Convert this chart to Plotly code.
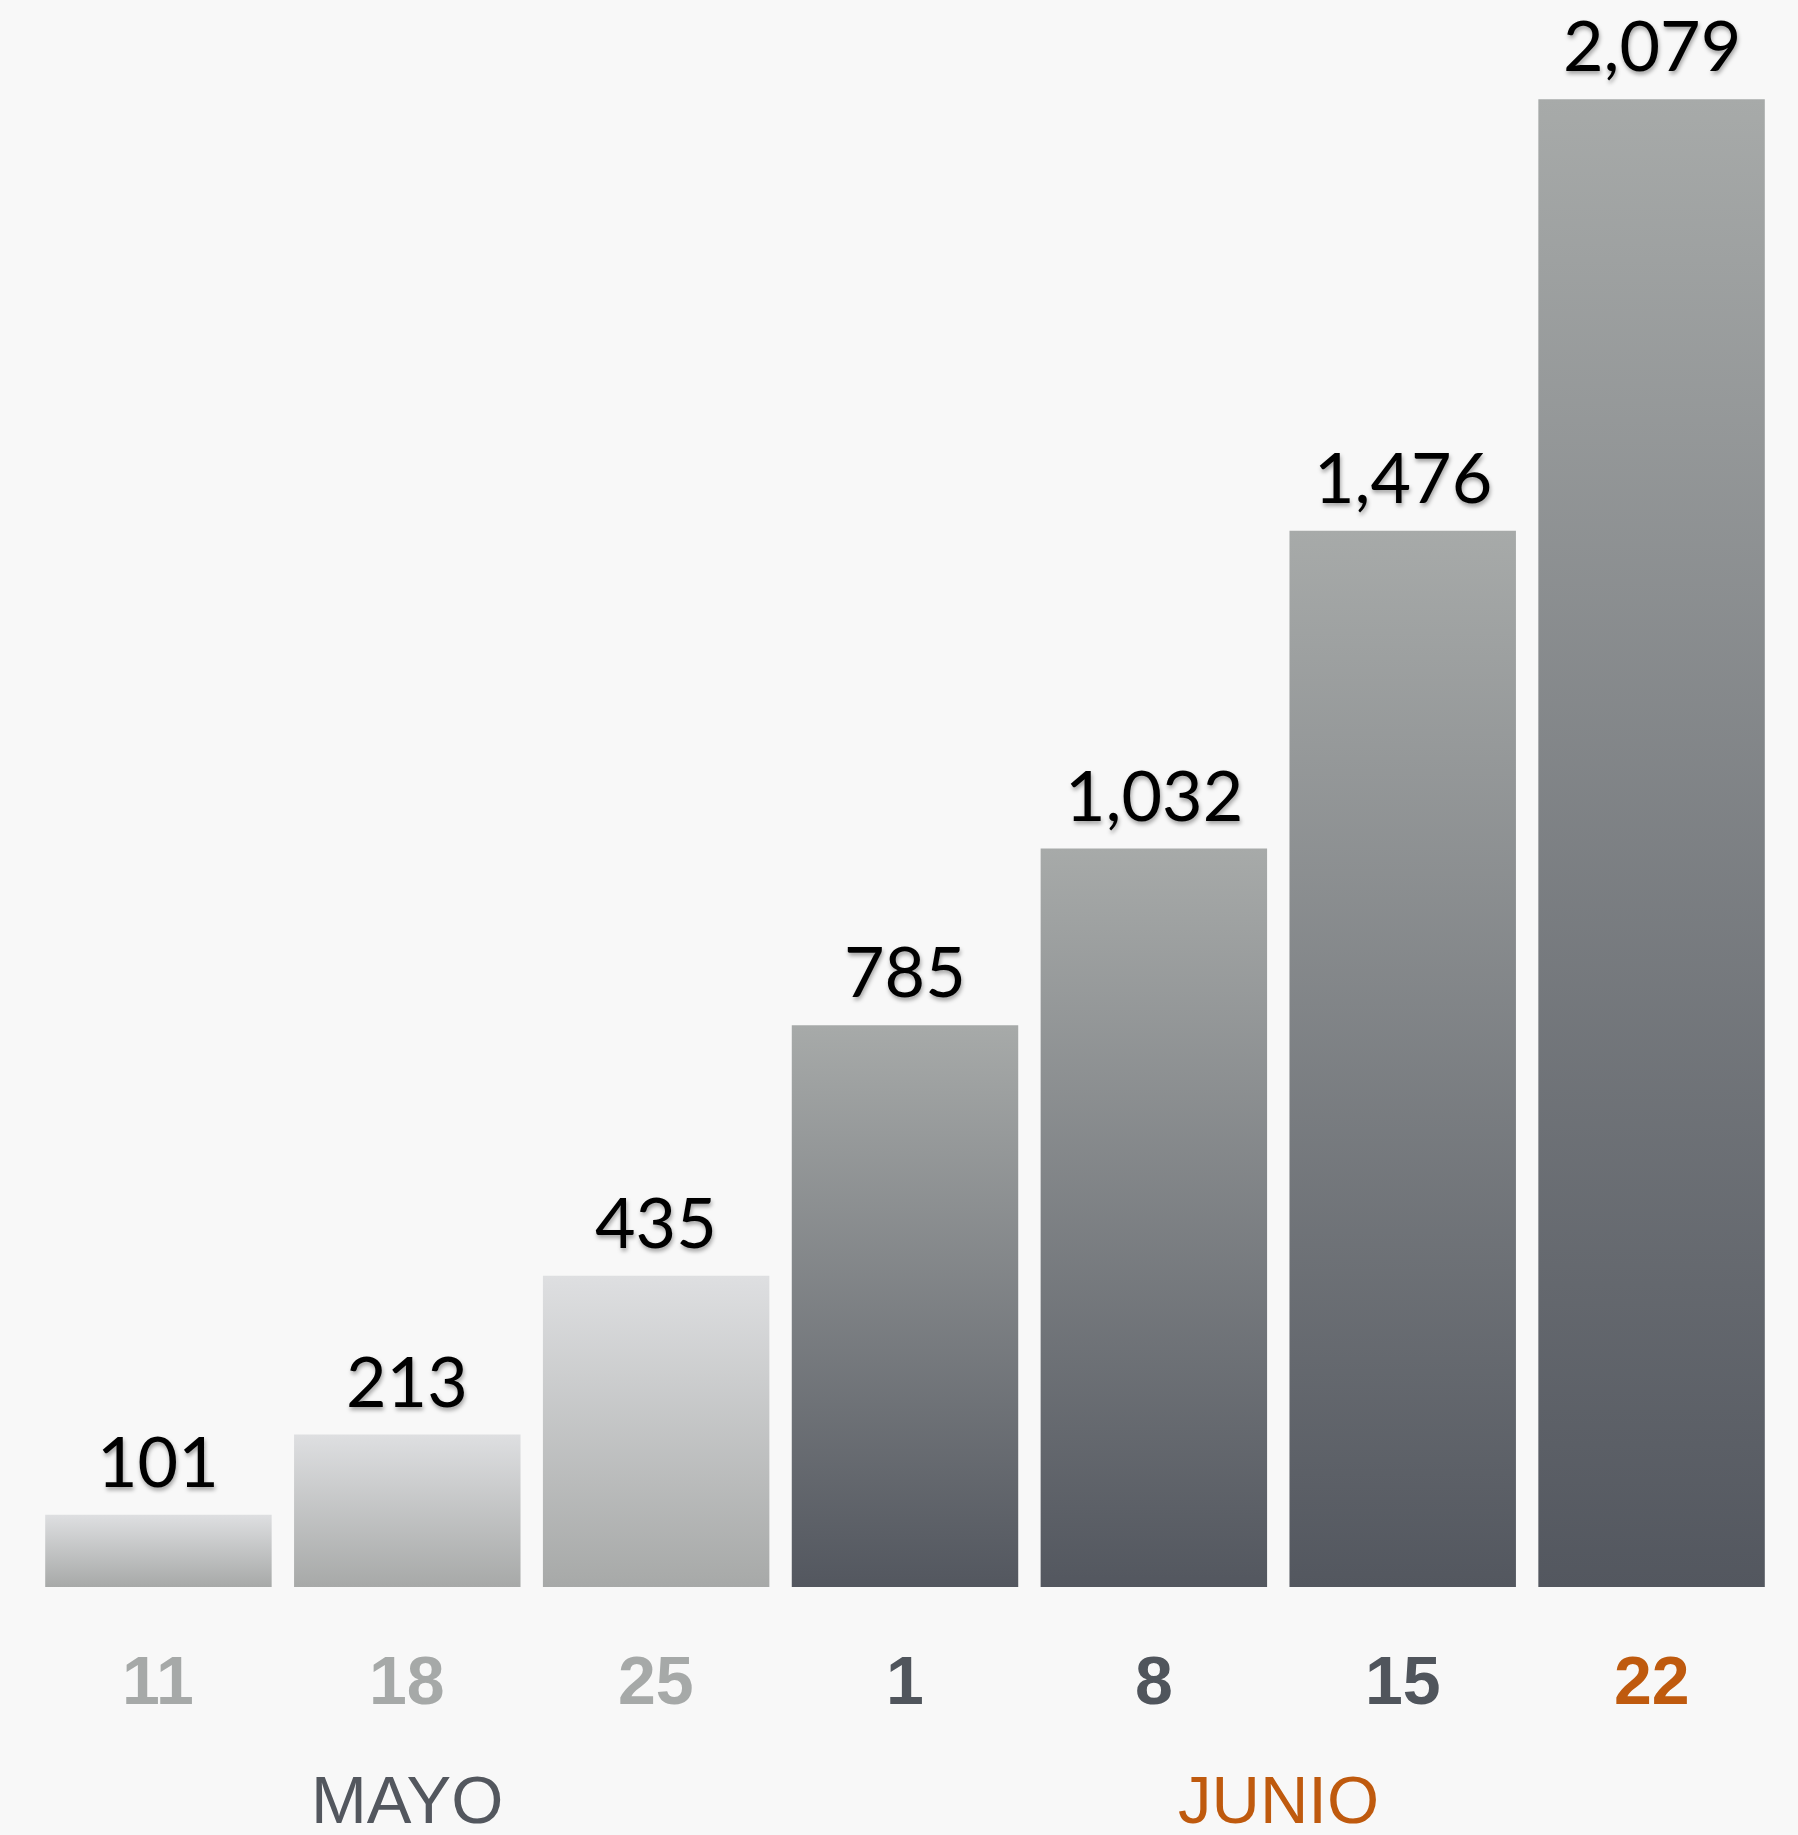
import plotly.graph_objects as go

# weekly cumulative counts, May -> June
days = ['11', '18', '25', '1', '8', '15', '22']
cases = [101, 213, 435, 785, 1032, 1476, 2079]
month_of_day = ['MAYO', 'MAYO', 'MAYO', 'JUNIO', 'JUNIO', 'JUNIO', 'JUNIO']
months = ['MAYO', 'JUNIO']

BG = '#f8f8f8'
LIGHT = [[0, '#a7a9a8'], [1, '#dedfe1']]
DARK = [[0, '#53575f'], [1, '#a7aaa9']]
ORANGE = '#bf5a0e'
half_w = 0.455

fig = go.Figure()

for i, (d, v, m) in enumerate(zip(days, cases, month_of_day)):
    fig.add_trace(go.Scatter(
        x=[i - half_w, i + half_w, i + half_w, i - half_w, i - half_w],
        y=[0, 0, v, v, 0],
        mode='lines',
        line=dict(width=0),
        fill='toself',
        fillgradient=dict(type='vertical', colorscale=LIGHT if m == 'MAYO' else DARK),
        hoverinfo='skip',
        showlegend=False,
    ))
    # value on top of the bar
    fig.add_annotation(
        x=i, y=v, xref='x', yref='y', yanchor='bottom', yshift=11,
        text=f'{v:,}', showarrow=False,
        font=dict(family='Lato', size=70, color='#000000', weight=400,
                  shadow='1px 3px 4px rgba(0,0,0,0.35)'),
    )
    # day label under the bar
    if i == len(days) - 1:
        c = ORANGE
    elif m == 'MAYO':
        c = '#a6a9a8'
    else:
        c = '#50555c'
    fig.add_annotation(
        x=i, y=0, xref='x', yref='y', yanchor='middle', yshift=-93,
        text=f'<b>{d}</b>', showarrow=False,
        font=dict(family='Liberation Sans', size=68, color=c),
    )

# month labels, centred under their weeks
for m in months:
    idx = [i for i, mm in enumerate(month_of_day) if mm == m]
    center = (idx[0] + idx[-1]) / 2
    fig.add_annotation(
        x=center, y=0, xref='x', yref='y', yanchor='middle', yshift=-212,
        text=m, showarrow=False,
        font=dict(family='Liberation Sans', size=67,
                  color=ORANGE if m == months[-1] else '#53575e'),
    )

fig.update_layout(
    width=1798, height=1835,
    margin=dict(l=34, r=22, t=60, b=248),
    paper_bgcolor=BG, plot_bgcolor=BG,
    xaxis=dict(range=[-0.5, 6.5], showgrid=False, zeroline=False,
               showticklabels=False, fixedrange=True),
    yaxis=dict(range=[0, 2134], showgrid=False, zeroline=False,
               showticklabels=False, fixedrange=True),
)

# drop the default page margin so the figure fills the window
fig.write_html('out.html', config={'displayModeBar': False},
               post_script="document.body.style.margin='0';document.body.style.background='#f8f8f8';")
